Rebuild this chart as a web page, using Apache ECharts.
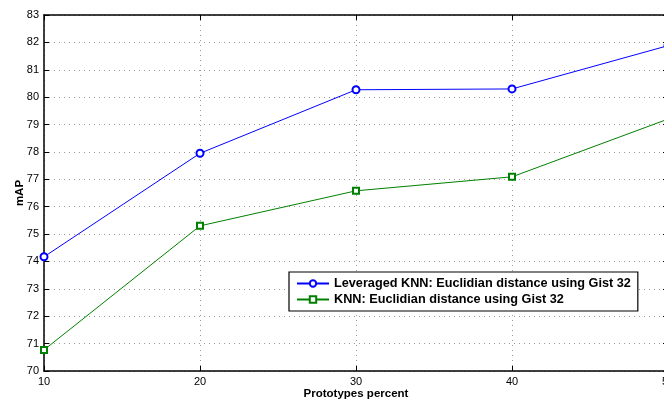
<!DOCTYPE html>
<html><head><meta charset="utf-8">
<script src="https://cdn.jsdelivr.net/npm/echarts@6/dist/echarts.min.js"></script>
<style>html,body{margin:0;padding:0;background:#fff}#c{width:664px;height:401px}</style>
</head><body><div id="c"></div>
<script>
const categories = [10, 20, 30, 40, 50];
const leveragedKNN = [74.17, 77.95, 80.27, 80.30, 81.88];
const plainKNN = [70.77, 75.30, 76.58, 77.09, 79.20];
const seriesNames = ['Leveraged KNN: Euclidian distance using Gist 32', 'KNN: Euclidian distance using Gist 32'];
const yTicks = {min: 70, max: 83, interval: 1};

const font = 'Liberation Sans, Arial, sans-serif';
const chart = echarts.init(document.getElementById('c'));
const axisLine = {show: true, lineStyle: {color: '#000', width: 1.5}};
chart.setOption({
  animation: false,
  backgroundColor: '#fff',
  grid: {left: 44, top: 15, width: 624, height: 356, outerBoundsMode: 'none', containLabel: false},
  legend: {
    orient: 'vertical', left: 289, top: 272,
    backgroundColor: '#fff', borderColor: '#000', borderWidth: 1.2, borderRadius: 0,
    padding: [5, 7, 5, 7], itemGap: 3, itemWidth: 32, itemHeight: 8,
    textStyle: {fontFamily: font, fontWeight: 'bold', fontSize: 12.7, color: '#000'},
    data: seriesNames
  },
  xAxis: [{
    type: 'value', min: 10, max: 50, interval: 10,
    name: 'Prototypes percent', nameLocation: 'middle', nameGap: 17, nameMoveOverlap: false,
    nameTextStyle: {fontFamily: font, fontWeight: 'bold', fontSize: 11.5, color: '#000'},
    axisLine: axisLine,
    axisTick: {show: true, inside: true, length: 5, lineStyle: {color: '#000'}},
    axisLabel: {fontFamily: font, fontSize: 11, color: '#000', margin: 5},
    splitLine: {show: true, lineStyle: {color: '#999', type: [1, 4], width: 1}}
  }, {
    type: 'value', min: 10, max: 50, interval: 10, position: 'top',
    axisLine: axisLine,
    axisTick: {show: true, inside: true, length: 5, lineStyle: {color: '#000'}},
    axisLabel: {show: false}, splitLine: {show: false}
  }],
  yAxis: [{
    type: 'value', min: yTicks.min, max: yTicks.max, interval: yTicks.interval,
    name: 'mAP', nameLocation: 'middle', nameGap: 18, nameMoveOverlap: false,
    nameTextStyle: {fontFamily: font, fontWeight: 'bold', fontSize: 11.5, color: '#000'},
    axisLine: axisLine,
    axisTick: {show: true, inside: true, length: 5, lineStyle: {color: '#000'}},
    axisLabel: {fontFamily: font, fontSize: 11, color: '#000', margin: 5},
    splitLine: {show: true, lineStyle: {color: '#999', type: [1, 4], width: 1}}
  }, {
    type: 'value', min: yTicks.min, max: yTicks.max, interval: yTicks.interval, position: 'right',
    axisLine: axisLine,
    axisTick: {show: true, inside: true, length: 5, lineStyle: {color: '#000'}},
    axisLabel: {show: false}, splitLine: {show: false}
  }],
  series: [{
    name: seriesNames[0], type: 'line',
    data: categories.map((c, i) => [c, leveragedKNN[i]]),
    symbol: 'emptyCircle', symbolSize: 7,
    lineStyle: {color: '#0000ff', width: 1},
    itemStyle: {color: '#0000ff', borderWidth: 1}
  }, {
    name: seriesNames[1], type: 'line',
    data: categories.map((c, i) => [c, plainKNN[i]]),
    symbol: 'emptyRect', symbolSize: 6,
    lineStyle: {color: '#008000', width: 1},
    itemStyle: {color: '#008000', borderWidth: 1}
  }]
});
</script></body></html>
